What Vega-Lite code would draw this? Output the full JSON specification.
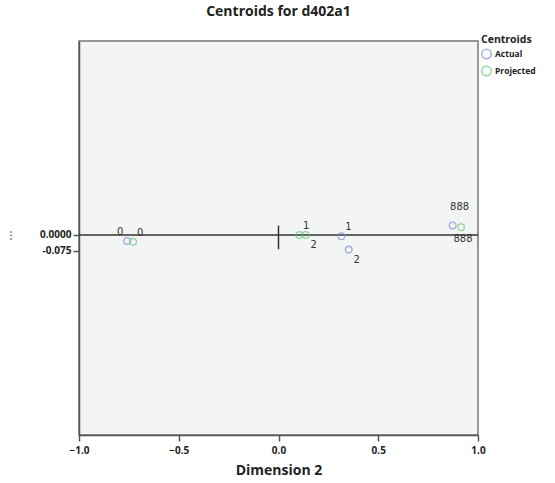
{
  "$schema": "https://vega.github.io/schema/vega-lite/v6.json",
  "width": 399,
  "height": 394,
  "autosize": "none",
  "padding": {"left": 79, "top": 41, "right": 77, "bottom": 48},
  "background": "white",
  "title": {"text": "Centroids for d402a1", "font": "Open Sans", "fontSize": 14, "fontWeight": "bold", "color": "#222", "offset": 16, "anchor": "middle"},
  "config": {
    "view": {"fill": "#f3f5f4", "stroke": "#777", "strokeWidth": 1.5},
    "axis": {"labelFont": "Open Sans", "labelFontWeight": "bold", "labelFontSize": 10, "labelColor": "#222", "titleFont": "Open Sans", "titleFontWeight": "bold", "titleFontSize": 14, "titleColor": "#222", "domainColor": "#555", "domainWidth": 1.5, "tickColor": "#555", "tickWidth": 1.5, "tickSize": 6, "grid": false, "labelFlush": false}
  },
  "datasets": {
    "pts": [
      {"series": "Actual", "cat": "0", "d2": -0.759, "d1": -0.029},
      {"series": "Projected", "cat": "0", "d2": -0.729, "d1": -0.033},
      {"series": "Actual", "cat": "1", "d2": 0.315, "d1": -0.006},
      {"series": "Projected", "cat": "1", "d2": 0.104, "d1": 0.0},
      {"series": "Actual", "cat": "2", "d2": 0.352, "d1": -0.070},
      {"series": "Projected", "cat": "2", "d2": 0.136, "d1": 0.0},
      {"series": "Actual", "cat": "888", "d2": 0.873, "d1": 0.045},
      {"series": "Projected", "cat": "888", "d2": 0.915, "d1": 0.037}
    ],
    "ref": [{"x0": -1, "x1": 1, "y0": 0, "vx": 0, "vy0": 0.045, "vy1": -0.068}]
  },
  "layer": [
    {
      "data": {"name": "ref"},
      "mark": {"type": "rule", "color": "#333", "strokeWidth": 1.5},
      "encoding": {
        "x": {"field": "x0", "type": "quantitative", "scale": {"domain": [-1, 1]}},
        "x2": {"field": "x1"},
        "y": {"field": "y0", "type": "quantitative"}
      }
    },
    {
      "data": {"name": "ref"},
      "mark": {"type": "rule", "color": "#333", "strokeWidth": 1.5},
      "encoding": {
        "x": {"field": "vx", "type": "quantitative"},
        "y": {"field": "vy0", "type": "quantitative"},
        "y2": {"field": "vy1"}
      }
    },
    {
      "data": {"name": "pts"},
      "mark": {"type": "point", "shape": "circle", "filled": false, "size": 45, "strokeWidth": 1.3},
      "encoding": {
        "x": {"field": "d2", "type": "quantitative", "scale": {"domain": [-1, 1], "nice": false, "zero": false}, "axis": {"title": "Dimension 2", "values": [-1, -0.5, 0, 0.5, 1], "format": ".1f", "titlePadding": 8, "labelPadding": 4}},
        "y": {"field": "d1", "type": "quantitative", "scale": {"domain": [-0.957, 0.928], "nice": false, "zero": false}, "axis": {"title": "...", "values": [0, -0.075], "labelExpr": "datum.value == 0 ? '0.0000' : '-0.075'", "titleColor": "#999", "titleX": -72, "titleY": 194, "titleBaseline": "middle", "titleFontSize": 12, "labelPadding": 2}},
        "stroke": {"field": "series", "type": "nominal", "scale": {"domain": ["Actual", "Projected"], "range": ["#7f8fd0", "#6cc77a"]},
          "legend": {"title": "Centroids", "orient": "none", "legendX": 402, "legendY": -6, "titleFont": "Open Sans", "titleFontSize": 10.5, "titleFontWeight": "bold", "titleColor": "#222", "labelFont": "Open Sans", "labelFontSize": 8.5, "labelFontWeight": "bold", "labelColor": "#222", "symbolSize": 90, "symbolStrokeWidth": 1.5, "rowPadding": 0, "labelOffset": 3, "titlePadding": 3}}
      }
    },
    {
      "data": {"name": "pts"},
      "transform": [{"filter": "(datum.series == 'Actual' && datum.cat == '0')"}],
      "mark": {"type": "text", "font": "DejaVu Sans", "fontSize": 10, "color": "#333", "dx": -7, "dy": -9},
      "encoding": {"x": {"field": "d2", "type": "quantitative"}, "y": {"field": "d1", "type": "quantitative"}, "text": {"field": "cat"}}
    },
    {
      "data": {"name": "pts"},
      "transform": [{"filter": "(datum.series == 'Projected' && datum.cat == '0') || datum.cat == '1'"}],
      "mark": {"type": "text", "font": "DejaVu Sans", "fontSize": 10, "color": "#333", "dx": 7, "dy": -9},
      "encoding": {"x": {"field": "d2", "type": "quantitative"}, "y": {"field": "d1", "type": "quantitative"}, "text": {"field": "cat"}}
    },
    {
      "data": {"name": "pts"},
      "transform": [{"filter": "datum.cat == '2'"}],
      "mark": {"type": "text", "font": "DejaVu Sans", "fontSize": 10, "color": "#333", "dx": 8, "dy": 10},
      "encoding": {"x": {"field": "d2", "type": "quantitative"}, "y": {"field": "d1", "type": "quantitative"}, "text": {"field": "cat"}}
    },
    {
      "data": {"name": "pts"},
      "transform": [{"filter": "datum.series == 'Actual' && datum.cat == '888'"}],
      "mark": {"type": "text", "font": "DejaVu Sans", "fontSize": 10, "color": "#333", "dx": 7, "dy": -19},
      "encoding": {"x": {"field": "d2", "type": "quantitative"}, "y": {"field": "d1", "type": "quantitative"}, "text": {"field": "cat"}}
    },
    {
      "data": {"name": "pts"},
      "transform": [{"filter": "datum.series == 'Projected' && datum.cat == '888'"}],
      "mark": {"type": "text", "font": "DejaVu Sans", "fontSize": 10, "color": "#333", "dx": 2, "dy": 12},
      "encoding": {"x": {"field": "d2", "type": "quantitative"}, "y": {"field": "d1", "type": "quantitative"}, "text": {"field": "cat"}}
    }
  ]
}
